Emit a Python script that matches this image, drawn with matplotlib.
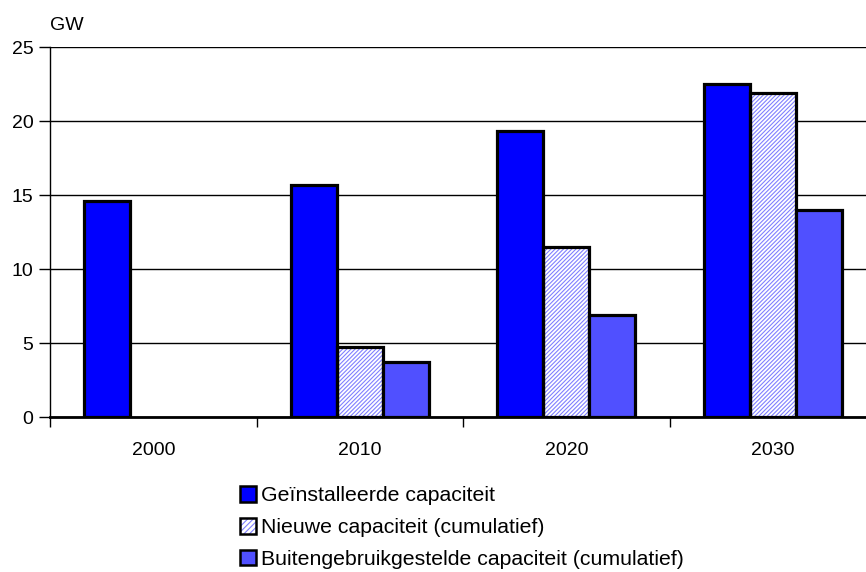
import matplotlib
matplotlib.use("Agg")
import matplotlib.pyplot as plt
from matplotlib.patches import Patch
from matplotlib.legend_handler import HandlerTuple
import numpy as np

plt.rcParams['font.family'] = ['Liberation Sans', 'DejaVu Sans']
plt.rcParams['hatch.linewidth'] = 0.8

years = ['2000', '2010', '2020', '2030']
installed = [14.6, 15.7, 19.3, 22.5]
new_cap = [0, 4.7, 11.5, 21.9]
retired = [0, 3.7, 6.9, 14.0]
series_names = ['Geïnstalleerde capaciteit', 'Nieuwe capaciteit (cumulatief)',
                'Buitengebruikgestelde capaciteit (cumulatief)']

W, H = 866, 572
fig = plt.figure(figsize=(W/100, H/100), dpi=100)
ax = fig.add_axes([50/W, 1-417/H, (W-50)/W, (417-47)/H])

x = np.arange(len(years))
bw = 0.223
blue = '#0000ff'
light = '#5050ff'
hatch_col = '#8080ff'
elw = 2.3
fs = 14

ax.set_ylim(0, 25)
ax.set_yticks([0, 5, 10, 15, 20, 25])
ax.yaxis.grid(True, color='black', linewidth=1.0)
ax.set_axisbelow(True)

def draw(vals, off, color, hatch=None):
    for xi, v in zip(x, vals):
        if v <= 0:
            continue
        if hatch:
            ax.bar(xi + off, v, bw, color='white', edgecolor=hatch_col, hatch=hatch, linewidth=0, zorder=2)
            ax.bar(xi + off, v, bw, fill=False, edgecolor='black', linewidth=elw, zorder=3)
        else:
            ax.bar(xi + off, v, bw, color=color, edgecolor='black', linewidth=elw, zorder=3)

draw(installed, -bw, blue)
draw(new_cap, 0, None, hatch='////////')
draw(retired, bw, light)

ax.set_xlim(-0.5, 3.5 - 10/206)
ax.set_xticks(x)
ax.set_xticklabels(years, fontsize=fs)
ax.set_xticks(np.arange(-0.5, 3.5, 1.0), minor=True)
ax.tick_params(axis='x', which='major', length=0, pad=18)
ax.tick_params(axis='x', which='minor', length=7, width=1.0, color='black')
ax.tick_params(axis='y', length=8, width=1.0, labelsize=fs, pad=4)

for s in ['top', 'right']:
    ax.spines[s].set_visible(False)
ax.spines['left'].set_linewidth(1.0)
ax.spines['bottom'].set_linewidth(2.0)

fig.text(50/W, 1-25/H, 'GW', fontsize=fs, va='center', ha='left')

h1 = Patch(facecolor=blue, edgecolor='black', linewidth=1.8)
h2a = Patch(facecolor='white', edgecolor=hatch_col, hatch='//////', linewidth=0)
h2b = Patch(fill=False, edgecolor='black', linewidth=1.8)
h3 = Patch(facecolor=light, edgecolor='black', linewidth=1.8)
fig.legend([h1, (h2a, h2b), h3], series_names,
           handler_map={tuple: HandlerTuple(ndivide=1, pad=0)},
           loc='upper left', bbox_to_anchor=(240/W, 1-486/H), frameon=False,
           fontsize=15.3, handlelength=0.75, handleheight=0.75, handletextpad=0.25,
           labelspacing=0.6, borderaxespad=0, borderpad=0)

fig.savefig('out.png', dpi=100)
